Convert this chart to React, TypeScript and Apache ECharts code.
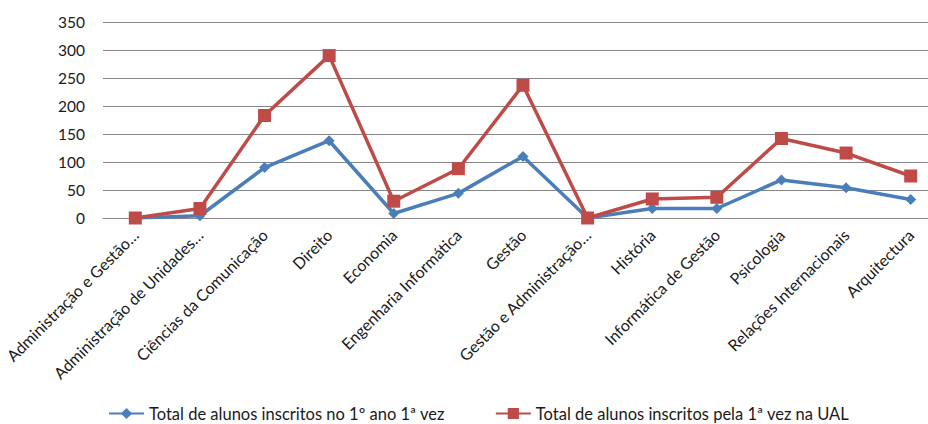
import React, { useEffect, useRef } from "react";
import * as echarts from "echarts";

const categories = [
  "Administração e Gestão…",
  "Administração de Unidades…",
  "Ciências da Comunicação",
  "Direito",
  "Economia",
  "Engenharia Informática",
  "Gestão",
  "Gestão e Administração…",
  "História",
  "Informática de Gestão",
  "Psicologia",
  "Relações Internacionais",
  "Arquitectura",
];

const primeiroAno = [0, 4, 90, 138, 8, 44, 110, 0, 17, 17, 68, 54, 33];
const primeiraVezUAL = [0, 17, 183, 290, 30, 88, 237, 0, 34, 37, 142, 116, 75];

const seriesNames = [
  "Total de alunos inscritos no 1º ano 1ª vez",
  "Total de alunos inscritos pela 1ª vez na UAL",
];

const FONT = "Lato, 'Open Sans', sans-serif";
const TEXT = "#1a1a1a";
const BLUE = "#4a7ebb";
const RED = "#be4b48";

export default function App() {
  const ref = useRef<HTMLDivElement>(null);

  useEffect(() => {
    if (!ref.current) return;
    const chart = echarts.init(ref.current, undefined, { renderer: "svg" });
    chart.setOption({
      animation: false,
      backgroundColor: "#ffffff",
      textStyle: { fontFamily: FONT },
      // plot area runs past the right edge of the canvas
      grid: {
        left: 103,
        width: 840,
        top: 22,
        bottom: 206,
        containLabel: false,
        outerBoundsMode: "none",
      },
      legend: {
        top: 405,
        left: 108,
        padding: 0,
        itemWidth: 35,
        itemHeight: 14,
        itemGap: 50,
        textStyle: { fontFamily: FONT, fontSize: 16.5, lineHeight: 14, color: TEXT },
        data: seriesNames,
      },
      xAxis: {
        type: "category",
        data: categories,
        boundaryGap: true,
        axisLine: { show: true, lineStyle: { color: "#868686", width: 1 } },
        axisTick: { show: false },
        axisLabel: {
          interval: 0,
          rotate: 45,
          margin: 14,
          fontFamily: FONT,
          fontSize: 16,
          color: TEXT,
        },
      },
      yAxis: {
        type: "value",
        min: 0,
        max: 350,
        interval: 50,
        axisLine: { show: false },
        axisTick: { show: false },
        axisLabel: { margin: 18, fontFamily: FONT, fontSize: 15.5, color: TEXT },
        splitLine: { lineStyle: { color: "#868686", width: 1 } },
      },
      series: [
        {
          name: seriesNames[0],
          type: "line",
          data: primeiroAno,
          symbol: "diamond",
          symbolSize: 11,
          color: BLUE,
          lineStyle: { width: 3.5, color: BLUE },
          itemStyle: { color: BLUE },
          z: 2,
        },
        {
          name: seriesNames[1],
          type: "line",
          data: primeiraVezUAL,
          symbol: "rect",
          symbolSize: 13,
          color: RED,
          lineStyle: { width: 3.5, color: RED },
          itemStyle: { color: RED },
          z: 3,
        },
      ],
    });
    return () => chart.dispose();
  }, []);

  return <div ref={ref} style={{ width: 928, height: 424, position: "absolute", left: 0, top: 0 }} />;
}
